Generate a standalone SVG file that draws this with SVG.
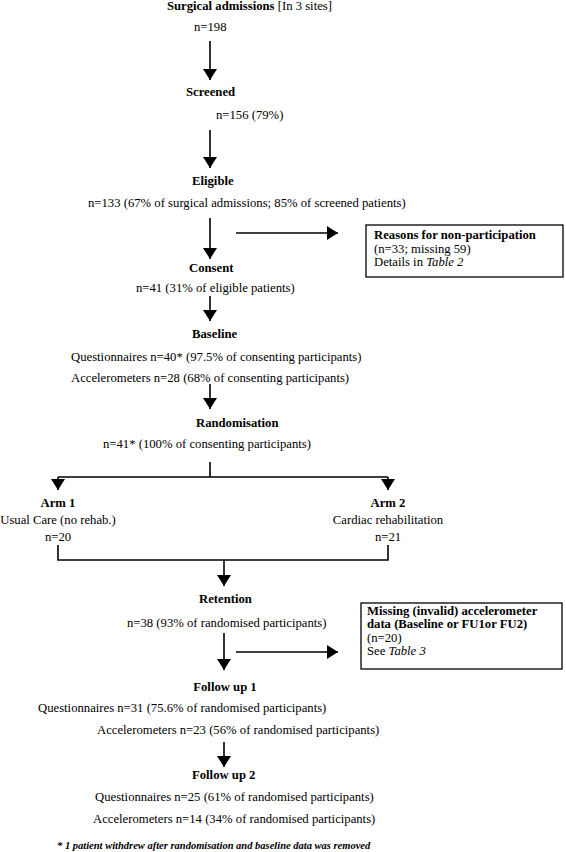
<svg xmlns="http://www.w3.org/2000/svg" width="566" height="852" viewBox="0 0 566 852">
<style>
text{font-family:"Liberation Serif","Times New Roman",serif;font-size:12.7px;fill:#000}
.b{font-weight:bold}
.i{font-style:italic}
.c{text-anchor:middle}
.fn{font-size:10.5px;font-weight:bold;font-style:italic}
.ln{stroke:#000;stroke-width:1.6;fill:none}
.arr{marker-end:url(#ah)}
.box{fill:#fff;stroke:#000;stroke-width:1.3}
</style>
<defs>
<marker id="ah" viewBox="0 0 11 14" refX="11" refY="7" markerWidth="11" markerHeight="14" markerUnits="userSpaceOnUse" orient="auto">
<path d="M0,0 L11,7 L0,14 z" fill="#000"/>
</marker>
</defs>
<rect width="566" height="852" fill="#fff"/>
<g id="connectors">
<path class="ln arr" d="M210,41 V80"/>
<path class="ln arr" d="M210,130 V168"/>
<path class="ln arr" d="M210,218 V259"/>
<path class="ln arr" d="M236,233 H338"/>
<path class="ln arr" d="M210,296 V321"/>
<path class="ln arr" d="M210,384 V409"/>
<path class="ln" d="M210,462 V477 M58,477 H388"/>
<path class="ln arr" d="M58,477 V490"/>
<path class="ln arr" d="M388,477 V490"/>
<path class="ln" d="M58,545 V560 H388 V545"/>
<path class="ln arr" d="M224,560 V586"/>
<path class="ln arr" d="M224,633 V670"/>
<path class="ln arr" d="M236,652 H338"/>
<path class="ln arr" d="M224,742 V767"/>
</g>
<g id="surgical">
<text x="167" y="10"><tspan class="b">Surgical admissions</tspan> [In 3 sites]</text>
<text x="194" y="31">n=198</text>
</g>
<g id="screened">
<text class="b" x="186" y="96">Screened</text>
<text x="216" y="119">n=156 (79%)</text>
</g>
<g id="eligible">
<text class="b" x="192" y="185">Eligible</text>
<text x="88" y="207">n=133 (67% of surgical admissions; 85% of screened patients)</text>
</g>
<g id="reasons">
<rect class="box" x="366" y="225" width="197" height="52"/>
<text class="b" x="374" y="239">Reasons for non-participation</text>
<text x="374" y="253">(n=33; missing 59)</text>
<text x="374" y="266">Details in <tspan class="i">Table 2</tspan></text>
</g>
<g id="consent">
<text class="b" x="189" y="272">Consent</text>
<text x="136" y="292">n=41 (31% of eligible patients)</text>
</g>
<g id="baseline">
<text class="b" x="192" y="338">Baseline</text>
<text x="71" y="361">Questionnaires n=40* (97.5% of consenting participants)</text>
<text x="71" y="382">Accelerometers n=28 (68% of consenting participants)</text>
</g>
<g id="randomisation">
<text class="b" x="196" y="427">Randomisation</text>
<text x="103" y="448">n=41* (100% of consenting participants)</text>
</g>
<g id="arm1">
<text class="b c" x="58" y="507">Arm 1</text>
<text class="c" x="58" y="524">Usual Care (no rehab.)</text>
<text class="c" x="58" y="541">n=20</text>
</g>
<g id="arm2">
<text class="b c" x="388" y="507">Arm 2</text>
<text class="c" x="388" y="524">Cardiac rehabilitation</text>
<text class="c" x="388" y="541">n=21</text>
</g>
<g id="retention">
<text class="b" x="199" y="603">Retention</text>
<text x="127" y="627">n=38 (93% of randomised participants)</text>
</g>
<g id="missing">
<rect class="box" x="361" y="603" width="201" height="66"/>
<text class="b" x="367" y="615">Missing (invalid) accelerometer</text>
<text class="b" x="367" y="628">data (Baseline or FU1or FU2)</text>
<text x="367" y="642">(n=20)</text>
<text x="367" y="655">See <tspan class="i">Table 3</tspan></text>
</g>
<g id="followup1">
<text class="b c" x="225" y="691">Follow up 1</text>
<text x="38" y="712">Questionnaires n=31 (75.6% of randomised participants)</text>
<text x="97" y="734">Accelerometers n=23 (56% of randomised participants)</text>
</g>
<g id="followup2">
<text class="b" x="192" y="779">Follow up 2</text>
<text x="95" y="801">Questionnaires n=25 (61% of randomised participants)</text>
<text x="93" y="823">Accelerometers n=14 (34% of randomised participants)</text>
</g>
<g id="footnote">
<text class="fn" x="57" y="849">* 1 patient withdrew after randomisation and baseline data was removed</text>
</g>
</svg>
